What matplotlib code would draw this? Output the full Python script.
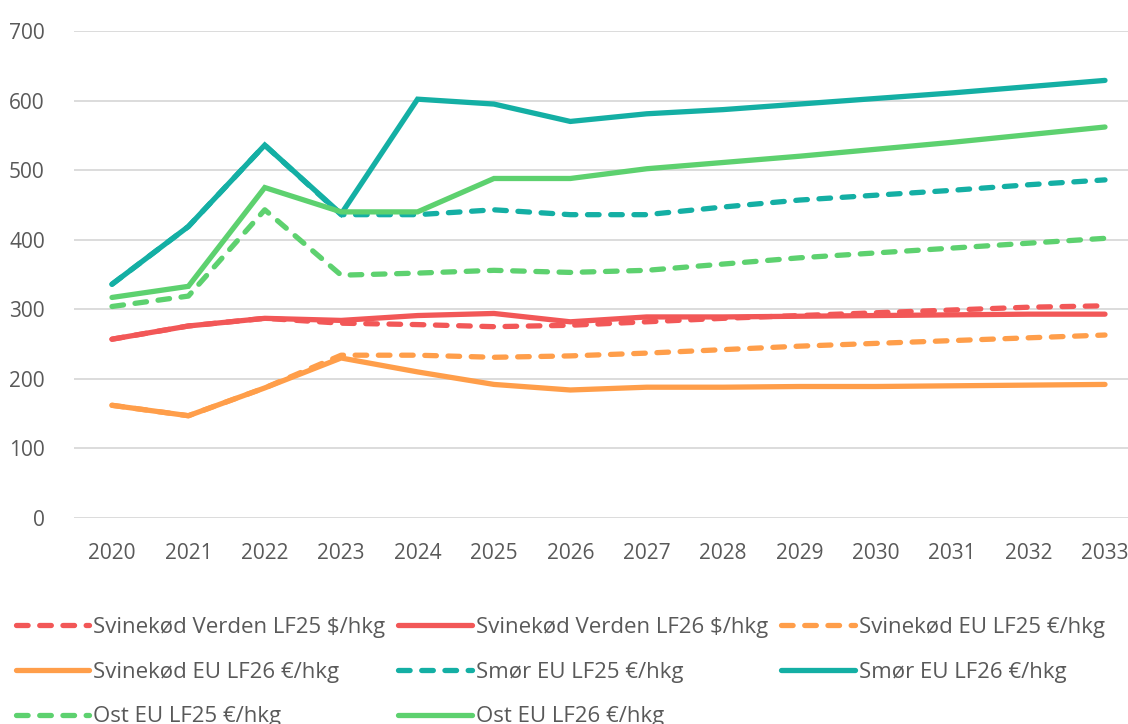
import matplotlib
matplotlib.use("Agg")
import matplotlib.pyplot as plt

years = list(range(2020, 2034))

svin_verden_lf25 = [257, 276, 287, 280, 278, 275, 277, 282, 287, 291, 295, 299, 303, 305]
svin_verden_lf26 = [257, 276, 287, 284, 291, 294, 282, 289, 289, 290, 291, 292, 293, 293]
svin_eu_lf25 = [162, 147, 187, 234, 234, 231, 233, 237, 242, 247, 251, 255, 259, 263]
svin_eu_lf26 = [162, 147, 187, 230, 210, 192, 184, 188, 188, 189, 189, 190, 191, 192]
smor_eu_lf25 = [336, 419, 536, 436, 436, 443, 436, 436, 447, 457, 464, 471, 479, 486]
smor_eu_lf26 = [336, 419, 536, 437, 602, 595, 570, 581, 587, 595, 603, 611, 620, 629]
ost_eu_lf25 = [304, 319, 443, 349, 352, 356, 353, 356, 365, 374, 381, 388, 395, 402]
ost_eu_lf26 = [317, 333, 475, 440, 440, 488, 488, 502, 511, 520, 530, 540, 551, 562]

labels = [
    "Svinekød Verden LF25 $/hkg",
    "Svinekød Verden LF26 $/hkg",
    "Svinekød EU LF25 €/hkg",
    "Svinekød EU LF26 €/hkg",
    "Smør EU LF25 €/hkg",
    "Smør EU LF26 €/hkg",
    "Ost EU LF25 €/hkg",
    "Ost EU LF26 €/hkg",
]
series = [svin_verden_lf25, svin_verden_lf26, svin_eu_lf25, svin_eu_lf26,
          smor_eu_lf25, smor_eu_lf26, ost_eu_lf25, ost_eu_lf26]

RED = "#F25757"
ORANGE = "#FF9E4A"
TEAL = "#14AFA4"
GREEN = "#5DD16F"
colors = [RED, RED, ORANGE, ORANGE, TEAL, TEAL, GREEN, GREEN]
dashed = [True, False, True, False, True, False, True, False]

plt.rcParams['font.family'] = ['Open Sans', 'DejaVu Sans']
TXT = "#595959"

fig = plt.figure(figsize=(11.28, 7.24), dpi=100)
ax = fig.add_axes([74/1128, (724-518)/724, 1 - 74/1128, (518-31)/724])

lw = 3.8
handles = []
for vals, lab, c, d in zip(series, labels, colors, dashed):
    if d:
        ln, = ax.plot(years, vals, color=c, lw=lw, label=lab,
                      dashes=(2.2, 2.2), dash_capstyle='round', solid_capstyle='round')
    else:
        ln, = ax.plot(years, vals, color=c, lw=lw, label=lab,
                      solid_capstyle='round', solid_joinstyle='miter')
    handles.append(ln)

ax.set_ylim(0, 700)
ax.set_xlim(2020 - 38/76.38, 2033 + 23/76.38)
ax.set_yticks(range(0, 701, 100))
ax.set_xticks(years)
ax.set_xticklabels([str(y) for y in years])
ax.grid(axis='y', color='#D9D9D9', lw=1.3)
ax.set_axisbelow(True)
for s in ax.spines.values():
    s.set_visible(False)
ax.tick_params(axis='both', length=0, labelsize=15, colors=TXT)
ax.tick_params(axis='y', pad=21)
ax.tick_params(axis='x', pad=18)

order = [0, 3, 6, 1, 4, 7, 2, 5]
leg = fig.legend([handles[i] for i in order], [labels[i] for i in order],
                 ncol=3, loc='upper left', bbox_to_anchor=(0.006, 1 - 608/724),
                 frameon=False, fontsize=16, handlelength=3.3, handletextpad=0.18,
                 columnspacing=0.6, labelspacing=1.07, borderaxespad=0)
for t in leg.get_texts():
    t.set_color(TXT)

fig.savefig("out.png", dpi=100)
